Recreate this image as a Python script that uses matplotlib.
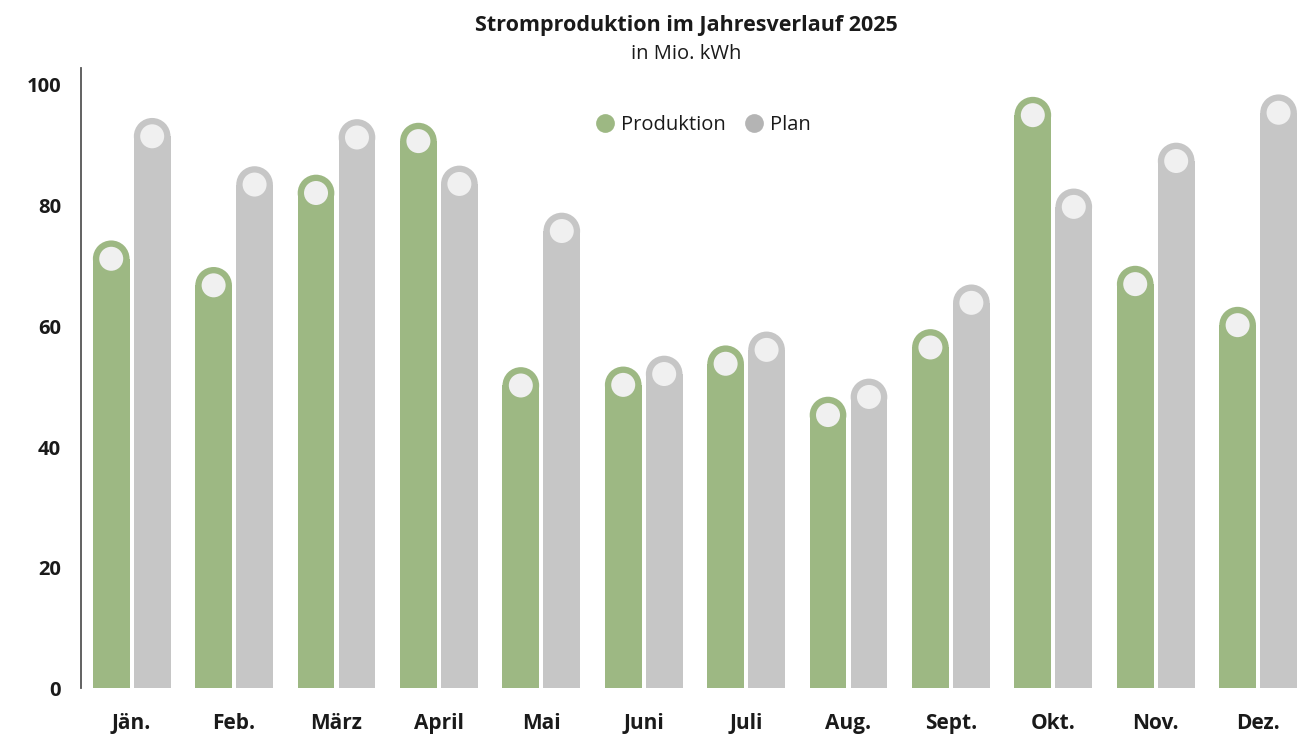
import matplotlib
matplotlib.use("Agg")
import matplotlib.pyplot as plt
from matplotlib.lines import Line2D
from matplotlib.patches import Ellipse
import numpy as np

months = ["Jän.", "Feb.", "März", "April", "Mai", "Juni", "Juli", "Aug.", "Sept.", "Okt.", "Nov.", "Dez."]
produktion = [71.2, 66.8, 82.1, 90.7, 50.2, 50.3, 53.8, 45.3, 56.5, 95.0, 67.0, 60.2]
plan = [91.5, 83.5, 91.3, 83.6, 75.8, 52.1, 56.1, 48.3, 63.9, 79.8, 87.4, 95.4]
yticks = [0, 20, 40, 60, 80, 100]

GREEN = "#9db883"
GREY = "#c6c6c6"
INNER = "#f0f0f0"
TEXT = "#1a1a1a"

plt.rcParams["font.family"] = ["Open Sans", "DejaVu Sans"]

W, H = 1303, 736
fig = plt.figure(figsize=(W / 100, H / 100), dpi=100)
left_px, bottom_px, top_px = 80.5, 688.4, 68.0
ax = fig.add_axes([left_px / W, (H - bottom_px) / H, (W - left_px) / W, (bottom_px - top_px) / H])

spacing_px = 102.4
x = np.arange(len(months))
ax.set_xlim(-0.5, -0.5 + (W - left_px) / spacing_px)
ymax = 100 * (bottom_px - top_px) / (bottom_px - 85.0)
ax.set_ylim(0, ymax)
px_per_y = (bottom_px - top_px) / ymax

off = 0.2
bw = 0.358
bw_px = bw * spacing_px
inner_px = 24.0

ax.bar(x - off, produktion, width=bw, color=GREEN, zorder=2)
ax.bar(x + off, plan, width=bw, color=GREY, zorder=2)

for xs, vals, col in [(x - off, produktion, GREEN), (x + off, plan, GREY)]:
    for xi, v in zip(xs, vals):
        ax.add_patch(Ellipse((xi, v), bw, bw_px / px_per_y, facecolor=col, edgecolor="none", zorder=3))
        ax.add_patch(Ellipse((xi, v), inner_px / spacing_px, inner_px / px_per_y,
                             facecolor=INNER, edgecolor="none", zorder=4))

for s in ["top", "right", "bottom"]:
    ax.spines[s].set_visible(False)
ax.spines["left"].set_color("#555555")
ax.spines["left"].set_linewidth(1.3)

ax.set_yticks(yticks)
ax.set_yticklabels([str(v) for v in yticks], fontsize=14.5, fontweight="bold", color=TEXT)
ax.tick_params(axis="y", length=0, pad=14)
ax.set_xticks(x)
ax.set_xticklabels(months, fontsize=15, fontweight="bold", color=TEXT)
ax.tick_params(axis="x", length=0, pad=18)

fig.text(686 / W, 1 - 25 / H, "Stromproduktion im Jahresverlauf 2025", ha="center", va="center",
         fontsize=15.5, fontweight="bold", color=TEXT)
fig.text(686 / W, 1 - 54 / H, "in Mio. kWh", ha="center", va="center", fontsize=14.5, color=TEXT)

handles = [Line2D([], [], ls="none", marker="o", ms=13.5, mfc=GREEN, mec="none"),
           Line2D([], [], ls="none", marker="o", ms=13.5, mfc="#b4b4b4", mec="none")]
fig.legend(handles, ["Produktion", "Plan"], loc="center", bbox_to_anchor=(703 / W, 1 - 125 / H),
           ncol=2, frameon=False, fontsize=14.5, handletextpad=0.3, columnspacing=0.9,
           handlelength=1.0, labelcolor=TEXT)

fig.savefig("out.png", dpi=100)
